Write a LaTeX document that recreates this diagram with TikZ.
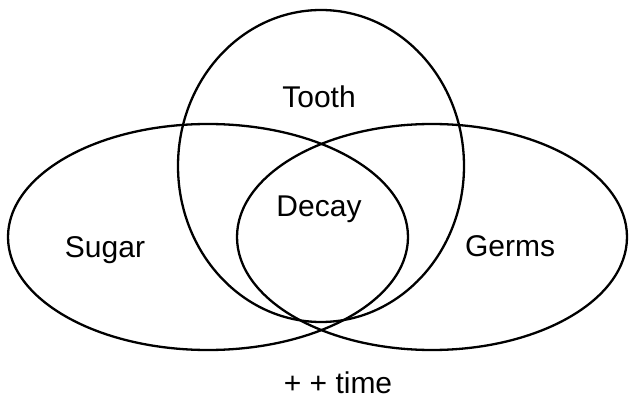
\documentclass[tikz,border=0pt]{standalone}
\usepackage{fontspec}
\setmainfont{Liberation Sans}
\begin{document}
\begin{tikzpicture}[x=1pt,y=-1pt,
  shapeline/.style={draw=black,line width=2.3pt},
  lbl/.style={font=\fontsize{30}{36}\selectfont,anchor=base,inner sep=0pt}]
\useasboundingbox (0,0) rectangle (629,398);
\draw[shapeline] (208,237) ellipse [x radius=200,y radius=113];
\draw[shapeline] (432,237) ellipse [x radius=195,y radius=113];
\draw[shapeline] (321,166) ellipse [x radius=143,y radius=156];
\node[lbl] (tooth) at (319,108) {Tooth};
\node[lbl] (decay) at (319,217) {Decay};
\node[lbl] (sugar) at (105,257) {Sugar};
\node[lbl] (germs) at (510,256) {Germs};
\node[lbl] (time) at (338,393) {+ + time};
\end{tikzpicture}
\end{document}
